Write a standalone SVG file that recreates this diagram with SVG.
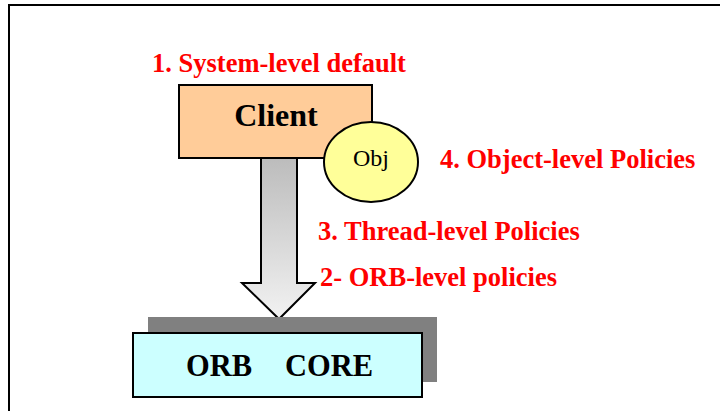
<svg xmlns="http://www.w3.org/2000/svg" width="720" height="411" viewBox="0 0 720 411">
<style>
.lbl{font-weight:bold;font-size:26.5px;fill:#ff0000}
.box{stroke:#000;stroke-width:2}
</style>
<defs>
<linearGradient id="g" x1="0" y1="0" x2="0" y2="1">
<stop offset="0" stop-color="#bcbcbc"/>
<stop offset="1" stop-color="#f2f2f2"/>
</linearGradient>
</defs>
<rect x="0" y="0" width="720" height="411" fill="#fff"/>
<rect x="9" y="5" width="720" height="420" fill="none" stroke="#000" stroke-width="2"/>
<g id="connectors">
<path d="M261 158 V283 H242 L279 319 L315 283 H297 V158 Z" fill="url(#g)" stroke="#000" stroke-width="2" stroke-linejoin="miter"/>
</g>
<g id="client">
<rect class="box" x="179" y="85" width="193" height="73" fill="#ffcc99"/>
<text x="276" y="126" text-anchor="middle" font-family="Liberation Serif" font-weight="bold" font-size="32">Client</text>
</g>
<g id="obj">
<ellipse class="box" cx="371" cy="162" rx="47" ry="40" fill="#ffff99"/>
<text x="371" y="166" text-anchor="middle" font-family="Liberation Serif" font-size="24">Obj</text>
</g>
<g id="orbcore">
<rect x="148" y="317" width="289" height="65" fill="#808080"/>
<rect class="box" x="133" y="333" width="289" height="64" fill="#ccffff"/>
<text x="186" y="376" font-family="Liberation Serif" font-weight="bold" font-size="30.5">ORB</text>
<text x="285" y="376" font-family="Liberation Serif" font-weight="bold" font-size="30.5">CORE</text>
</g>
<g id="labels">
<text class="lbl" x="152" y="72" font-family="Liberation Serif">1. System-level default</text>
<text class="lbl" x="440" y="168" font-family="Liberation Serif">4. Object-level Policies</text>
<text class="lbl" x="318" y="240" font-family="Liberation Serif">3. Thread-level Policies</text>
<text class="lbl" x="320" y="286" font-family="Liberation Serif">2- ORB-level policies</text>
</g>
</svg>
